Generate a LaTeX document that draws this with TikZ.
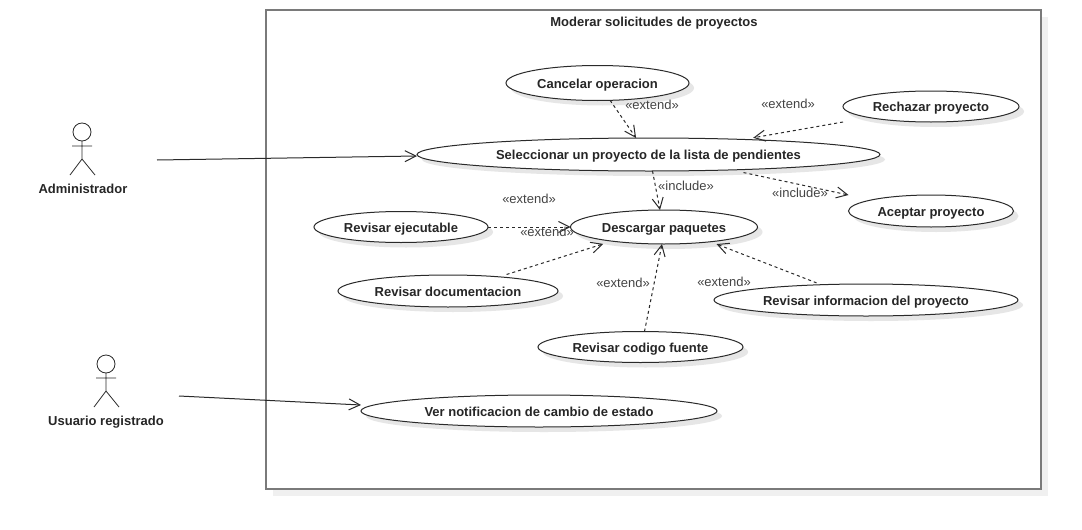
\documentclass[tikz,border=0pt]{standalone}
\usepackage{fontspec}
\setmainfont{Liberation Sans}
\usetikzlibrary{shapes.geometric,shadows,arrows.meta}
\definecolor{linegray}{HTML}{2A2A2A}
\definecolor{framegray}{HTML}{7A7A7A}
\definecolor{shadegray}{HTML}{F0F0F0}
\definecolor{ovalshade}{HTML}{E6E6E6}
\definecolor{labelgray}{HTML}{444444}
\tikzset{
    usecase/.style={draw=linegray, line width=1pt, fill=white, ellipse, inner sep=-30pt, outer sep=0pt,
        font=\fontsize{13pt}{15pt}\selectfont\bfseries, text=black!85, text height=12pt, text depth=2pt,
        drop shadow={shadow xshift=5pt, shadow yshift=-5pt, fill=ovalshade, opacity=1}},
    actorname/.style={font=\fontsize{13pt}{15pt}\selectfont\bfseries, text=black!85, text height=12pt, text depth=2pt},
    stereotype/.style={font=\fontsize{13pt}{15pt}\selectfont, text=labelgray, text height=11pt, text depth=2pt},
    assoc/.style={draw=linegray, line width=1pt, -{Straight Barb[length=11pt,width=11pt]}},
    depend/.style={assoc, dash pattern=on 3pt off 3pt},
    pics/actor/.style={code={
        \draw [linegray, line width=0.8pt] (0,0) circle (9);
        \draw [linegray, line width=0.8pt] (0,9) -- (0,27) (-10,14) -- (10,14) (-12,43) -- (0,27) -- (13,43);
    }}
}
\begin{document}
\begin{tikzpicture}[x=1pt, y=-1pt]
    \useasboundingbox (0,0) rectangle (1082,530);
    \node (frame) [draw=framegray, line width=1.8pt, fill=white, minimum width=775pt, minimum height=479pt,
        drop shadow={shadow xshift=7pt, shadow yshift=-7pt, fill=shadegray, opacity=1}] at (653.5,249.5) {};
    \node (title) [actorname] at (654,22) {Moderar solicitudes de proyectos};

    \pic at (82,132) {actor};
    \pic at (106,364) {actor};
    \node (admin) [actorname] at (83,188) {Administrador};
    \node (usuario) [actorname] at (106,420) {Usuario registrado};
    \coordinate (adminend) at (157,160);
    \coordinate (usuarioend) at (179,396);

    \node (selecc) [usecase, minimum width=463pt, minimum height=33pt] at (648.5,154.5) {Seleccionar un proyecto de la lista de pendientes};
    \node (cancelar) [usecase, minimum width=183pt, minimum height=35pt, above of=selecc, node distance=71.5pt, xshift=-51pt] {Cancelar operacion};
    \node (rechazar) [usecase, minimum width=176pt, minimum height=31pt, above of=selecc, node distance=48pt, xshift=282.5pt] {Rechazar proyecto};
    \node (aceptar) [usecase, minimum width=165pt, minimum height=32pt, below of=selecc, node distance=56.5pt, xshift=282.5pt] {Aceptar proyecto};
    \node (descargar) [usecase, minimum width=187pt, minimum height=34pt, below of=selecc, node distance=72.5pt, xshift=15.5pt] {Descargar paquetes};
    \node (ejecutable) [usecase, minimum width=174pt, minimum height=31pt, left of=descargar, node distance=263pt] {Revisar ejecutable};
    \node (documentacion) [usecase, minimum width=220pt, minimum height=32pt, below of=ejecutable, node distance=64pt, xshift=47pt] {Revisar documentacion};
    \node (informacion) [usecase, minimum width=304pt, minimum height=32pt, below of=descargar, node distance=73pt, xshift=202pt] {Revisar informacion del proyecto};
    \node (codigo) [usecase, minimum width=205pt, minimum height=31pt, below of=descargar, node distance=120pt, xshift=-23.5pt] {Revisar codigo fuente};
    \node (notificacion) [usecase, minimum width=356pt, minimum height=32pt, below of=codigo, node distance=64pt, xshift=-101.5pt] {Ver notificacion de cambio de estado};

    \draw [assoc] (adminend) -- ([yshift=-1.5pt]selecc.west);
    \draw [assoc] (usuarioend) -- ([yshift=6pt]notificacion.west);

    \draw [depend] (cancelar.-54) -- (selecc.127);
    \draw [depend] ([yshift=-15.5pt]rechazar.west) -- ([yshift=2pt]selecc.8);
    \draw [depend] ([yshift=-3pt]selecc.-9.6) -- ([yshift=16pt]aceptar.west);
    \draw [depend] ([xshift=4pt]selecc.south) -- ([xshift=-4pt]descargar.north);
    \draw [depend] (ejecutable.east) -- (descargar.west);
    \draw [depend] ([yshift=3pt]documentacion.13) -- ([yshift=-4pt]descargar.192);
    \draw [depend] ([xshift=4pt]codigo.north) -- ([xshift=-2pt]descargar.south);
    \draw [depend] ([yshift=2pt]informacion.163) -- ([yshift=-3pt]descargar.-15.6);

    \node (ext1) [stereotype] at (652,105) {«extend»};
    \node (ext2) [stereotype] at (788,104) {«extend»};
    \node (ext3) [stereotype] at (529,199) {«extend»};
    \node (ext4) [stereotype] at (547,232) {«extend»};
    \node (ext5) [stereotype] at (623,283) {«extend»};
    \node (ext6) [stereotype] at (724,282) {«extend»};
    \node (inc1) [stereotype] at (686,186) {«include»};
    \node (inc2) [stereotype] at (800,193) {«include»};
\end{tikzpicture}
\end{document}
